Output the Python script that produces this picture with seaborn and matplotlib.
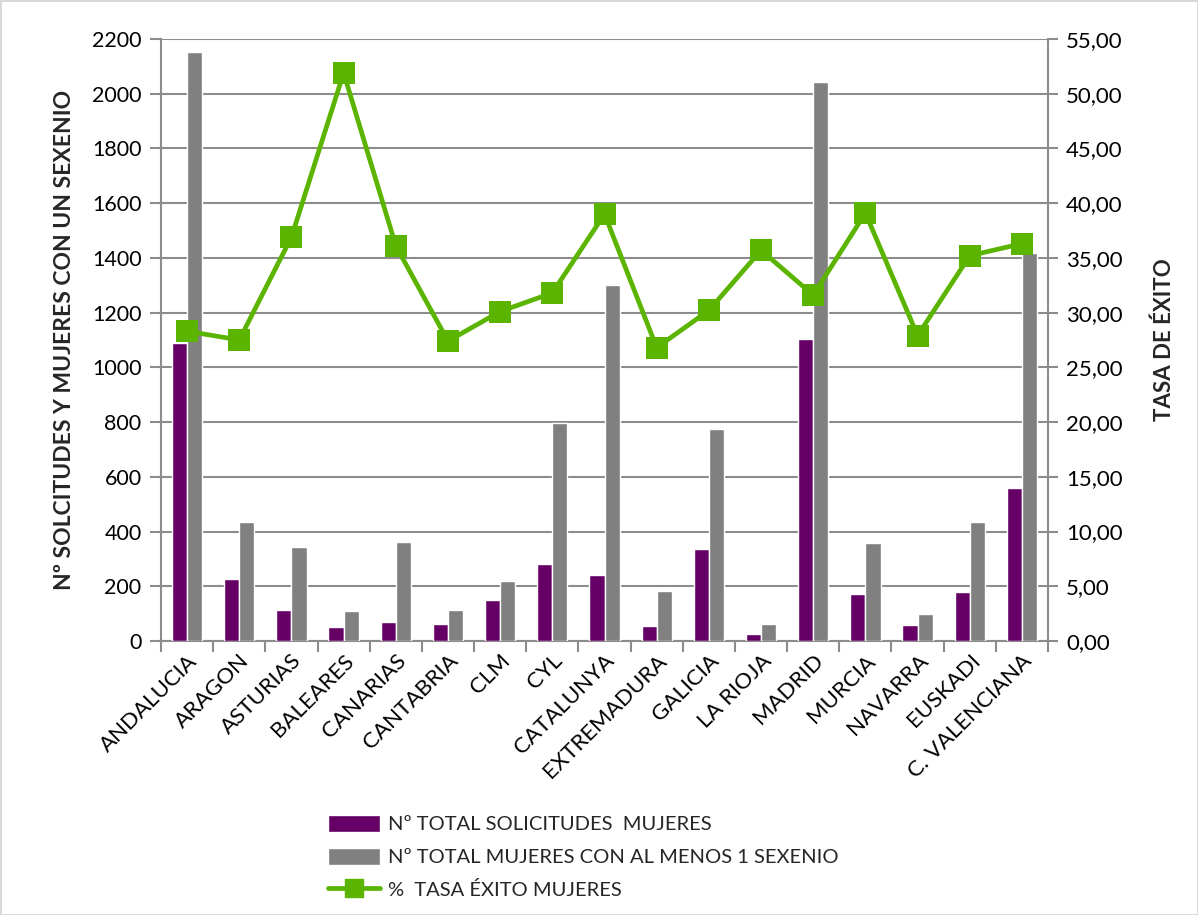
import numpy as np
import pandas as pd
import seaborn as sns
import matplotlib.pyplot as plt
from matplotlib.lines import Line2D
from matplotlib.patches import Patch
from matplotlib.ticker import FixedLocator, FuncFormatter


regiones = [
    "ANDALUCIA", "ARAGON", "ASTURIAS", "BALEARES", "CANARIAS", "CANTABRIA",
    "CLM", "CYL", "CATALUNYA", "EXTREMADURA", "GALICIA", "LA RIOJA",
    "MADRID", "MURCIA", "NAVARRA", "EUSKADI", "C. VALENCIANA",
]

solicitudes = [1090, 227, 113, 51, 69, 61, 151, 283, 241, 54, 337, 24,
               1103, 171, 58, 179, 559]

sexenio = [2152, 435, 343, 110, 362, 114, 219, 795, 1300, 184, 773, 61,
           2041, 357, 98, 436, 1419]

tasa = [28.3, 27.5, 36.9, 51.9, 36.1, 27.4, 30.1, 31.8, 39.0, 26.8, 30.2,
        35.7, 31.6, 39.1, 27.9, 35.2, 36.3]

lab_sol = "Nº TOTAL SOLICITUDES  MUJERES"
lab_sex = "Nº TOTAL MUJERES CON AL MENOS 1 SEXENIO"
lab_tasa = "%  TASA ÉXITO MUJERES"

morado = "#660066"
gris = "#808080"
verde = "#5BB400"
rejilla = "#8c8c8c"

sns.set_theme(style="white")
plt.rcParams['font.family'] = ['Lato', 'DejaVu Sans']

df = pd.DataFrame({
    "region": regiones * 2,
    "valor": solicitudes + sexenio,
    "serie": [lab_sol] * len(regiones) + [lab_sex] * len(regiones),
})

fig = plt.figure(figsize=(11.98, 9.15), dpi=100)
fig.patch.set_edgecolor("#d9d9d9")
fig.patch.set_linewidth(2)
ax = fig.add_axes([0.1344, 0.2995, 0.7404, 0.6579])

sns.barplot(data=df, x="region", y="valor", hue="serie",
            palette=[morado, gris], width=0.58, gap=0, ax=ax,
            legend=False, saturation=1, errorbar=None, zorder=3)

ax.set_ylim(0, 2200)
ax.set_xlim(-0.5, len(regiones) - 0.5)
ax.set_yticks(np.arange(0, 2201, 200))
ax.yaxis.grid(True, color=rejilla, linewidth=1.5, zorder=0)
ax.set_axisbelow(True)

for lado in ["top", "right"]:
    ax.spines[lado].set_visible(False)
for lado in ["left", "bottom"]:
    ax.spines[lado].set_color(rejilla)
    ax.spines[lado].set_linewidth(1.5)

ax.xaxis.set_minor_locator(FixedLocator(np.arange(-0.5, len(regiones), 1)))
ax.tick_params(axis="x", which="major", length=0, pad=7, labelsize=16,
               labelcolor="black")
ax.tick_params(axis="x", which="minor", length=8, width=1.5, color=rejilla,
               direction="out", bottom=True)
ax.tick_params(axis="y", length=8, width=1.5, color=rejilla, direction="out",
               left=True, labelsize=15.5, labelcolor="black", pad=6)
plt.setp(ax.get_xticklabels(), rotation=45, ha="right",
         rotation_mode="anchor")

ax.set_xlabel("")
ax.set_ylabel("Nº SOLCITUDES Y MUJERES CON UN SEXENIO", fontsize=16.5,
              fontweight="bold", labelpad=12)

ax2 = ax.twinx()
sns.lineplot(x=regiones, y=tasa, ax=ax2, sort=False, color=verde,
             linewidth=3.4, marker="s", markersize=16, markeredgewidth=0,
             zorder=5)
ax2.set_ylim(0, 55)
ax2.set_yticks(np.arange(0, 56, 5))
ax2.yaxis.set_major_formatter(FuncFormatter(lambda v, p: f"{v:.2f}".replace(".", ",")))
ax2.tick_params(axis="y", length=7, width=1.5, color=rejilla, direction="out",
                right=True, labelsize=16, labelcolor="black", pad=6)
for lado in ["top", "left", "bottom"]:
    ax2.spines[lado].set_visible(False)
ax2.spines["right"].set_color(rejilla)
ax2.spines["right"].set_linewidth(1.5)
ax2.set_ylabel("TASA DE ÉXITO", fontsize=16, fontweight="bold", labelpad=22)
ax2.grid(False)

handles = [
    Patch(facecolor=morado, label=lab_sol),
    Patch(facecolor=gris, label=lab_sex),
    Line2D([], [], color=verde, linewidth=3.4, marker="s", markersize=13,
           label=lab_tasa),
]
fig.legend(handles=handles, loc="upper left", bbox_to_anchor=(0.267, 0.118),
           frameon=False, fontsize=14.5, handlelength=2.6, handleheight=0.9,
           labelspacing=0.72, handletextpad=0.4, borderaxespad=0)

fig.savefig("out.png", dpi=100, edgecolor=fig.get_edgecolor())
